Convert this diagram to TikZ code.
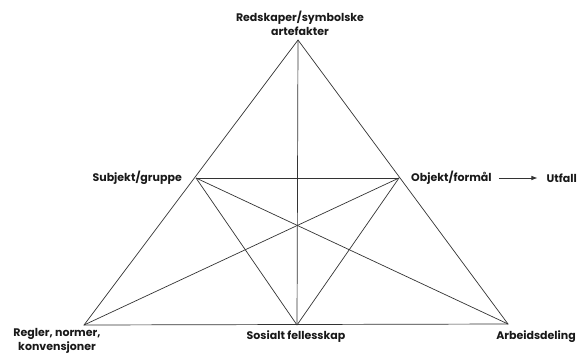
\documentclass[tikz,border=0pt]{standalone}
\usepackage{fontspec}
\setmainfont{Poppins}
\usetikzlibrary{arrows.meta}
\begin{document}
\begin{tikzpicture}[x=1pt,y=-1pt,
  edge/.style={draw=black!80,line width=0.7pt},
  lbl/.style={font=\bfseries\fontsize{11}{14}\selectfont,text=black!90,inner sep=0pt,align=center}]
\useasboundingbox (0,0) rectangle (577,354);
\coordinate (A) at (298,40);
\coordinate (S) at (196,178);
\coordinate (O) at (399,178);
\coordinate (R) at (84,325);
\coordinate (F) at (297,325);
\coordinate (D) at (508,324);
\draw[edge] (A) -- (R) -- (D) -- cycle;
\draw[edge] (A) -- (F);
\draw[edge] (S) -- (O);
\draw[edge] (S) -- (F);
\draw[edge] (S) -- (D);
\draw[edge] (O) -- (F);
\draw[edge] (O) -- (R);
\node[lbl] (tA) at (300,23) {Redskaper/symbolske\\artefakter};
\node[lbl,anchor=east] (tS) at (182,178) {Subjekt/gruppe};
\node[lbl,anchor=west] (tO) at (411,178) {Objekt/formål};
\node[lbl,anchor=east] (tU) at (577,178) {Utfall};
\draw[edge,-{Latex[length=6pt,width=4.5pt]}] ([xshift=7pt]tO.east) -- ([xshift=-9pt]tU.west);
\node[lbl] (tR) at (57,341) {Regler, normer,\\konvensjoner};
\node[lbl] (tF) at (296,337) {Sosialt fellesskap};
\node[lbl,anchor=east] (tD) at (576,337) {Arbeidsdeling};
\end{tikzpicture}
\end{document}
